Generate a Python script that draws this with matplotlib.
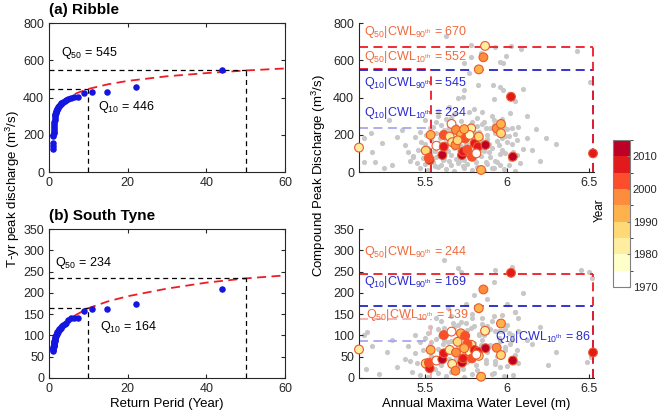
import matplotlib
matplotlib.use('Agg')
import matplotlib.pyplot as plt
from matplotlib.colors import ListedColormap, BoundaryNorm
from matplotlib.colorbar import ColorbarBase

plt.rcParams['font.family'] = ['Liberation Sans', 'DejaVu Sans']
plt.rcParams['mathtext.fontset'] = 'custom'
plt.rcParams['mathtext.rm'] = 'Liberation Sans'
plt.rcParams['mathtext.it'] = 'Liberation Sans:italic'
plt.rcParams['font.size'] = 9
plt.rcParams['axes.edgecolor'] = '#262626'
plt.rcParams['xtick.color'] = '#262626'
plt.rcParams['ytick.color'] = '#262626'

# ---------------- data ----------------
# return periods of the ranked annual maxima
ret_period = [44.0, 22.0, 14.67, 11.0, 8.8, 7.33, 6.29, 5.5, 4.89, 4.4, 4.0, 3.67, 3.38,
              3.14, 2.93, 2.75, 2.59, 2.44, 2.32, 2.2, 2.1, 2.0, 1.91, 1.83, 1.76, 1.69,
              1.63, 1.57, 1.52, 1.47, 1.42, 1.38, 1.33, 1.29, 1.26, 1.22, 1.19, 1.16,
              1.13, 1.1, 1.07, 1.05, 1.02]
ribble_q = [545, 455, 430, 428, 422, 405, 402, 398, 392, 388, 383, 378, 372, 368, 364,
            360, 356, 352, 348, 344, 340, 336, 332, 328, 323, 318, 313, 306, 298, 290,
            280, 270, 258, 246, 235, 224, 215, 207, 200, 193, 155, 140, 125]
tyne_q = [209, 173, 163, 162, 157, 142, 141, 140, 136, 130, 127, 124, 122, 120, 118,
          116, 114, 112, 110, 109, 108, 106, 104, 102, 100, 98, 96, 94, 92, 90, 88, 86,
          84, 82, 80, 78, 76, 74, 72, 70, 68, 66, 64]

# fitted distribution curves
fit_T = [1.5, 2, 3, 5, 7, 10, 15, 20, 30, 40, 50, 60]
ribble_fit = [312, 335, 366, 401, 423, 446, 471, 489, 514, 531, 545, 556]
tyne_fit = [98, 108, 121, 137, 149, 164, 180, 192, 210, 224, 234, 241]

ribble_Q10, ribble_Q50 = 446, 545
tyne_Q10, tyne_Q50 = 164, 234

# conditional quantiles
cwl_10th, cwl_90th = 5.537, 6.524
ribble_cond = {'q50_90': 670, 'q50_10': 552, 'q10_90': 545, 'q10_10': 234}
tyne_cond = {'q50_90': 244, 'q50_10': 139, 'q10_90': 169, 'q10_10': 86}

# observed compound events (water level, year, discharge)
obs_wl = [5.10, 5.536, 5.506, 5.53, 5.525, 5.571, 5.607, 5.616, 5.616, 5.652, 5.663,
          5.667, 5.69, 5.72, 5.746, 5.727, 5.687, 5.733, 5.783, 5.773, 5.787, 5.803,
          5.823, 5.829, 5.87, 5.843, 5.829, 5.857, 5.867, 6.025, 6.036, 6.524, 5.938,
          5.964, 5.964, 5.814, 5.70, 5.76, 5.74]
obs_year = [1982, 1990, 1985, 2006, 2001, 1972, 2012, 2003, 2006, 1981, 1971,
            1983, 1995, 1990, 2003, 2012, 1996, 2007, 1981, 1979, 2002, 2008,
            2009, 1988, 2013, 1990, 1994, 1995, 1980, 2009, 2012, 2008, 1996,
            1992, 1989, 1973, 1986, 2001, 1993]
obs_ribble = [131, 199, 115, 64, 75, 141, 91, 199, 136, 190, 258,
              160, 226, 199, 180, 91, 145, 109, 234, 199, 82, 154,
              136, 190, 145, 11, 551, 616, 677, 404, 82, 100, 234,
              258, 208, 100, 170, 120, 230]
obs_tyne = [67, 66, 34, 23, 36, 41, 44, 101, 58, 66, 109,
            33, 60, 105, 99, 36, 17, 46, 78, 62, 46, 66,
            62, 52, 70, 3, 164, 208, 111, 247, 41, 60, 71,
            128, 54, 55, 85, 80, 70]

# simulated events (grey cloud), Ribble
sim_wl_r = [5.47, 5.52, 5.58, 5.63, 5.68, 5.74, 5.79, 5.86, 5.92, 5.98, 6.05,
            5.45, 5.50, 5.55, 5.60, 5.65, 5.70, 5.76, 5.81, 5.88, 5.94, 6.01, 6.08,
            5.43, 5.49, 5.53, 5.57, 5.62, 5.66, 5.71, 5.75, 5.80, 5.84, 5.90, 5.96, 6.02,
            5.46, 5.52, 5.56, 5.60, 5.64, 5.68, 5.72, 5.77, 5.81, 5.86, 5.91, 5.97, 6.04, 6.10,
            5.48, 5.54, 5.58, 5.63, 5.67, 5.71, 5.75, 5.79, 5.84, 5.89, 5.94, 6.00, 6.06,
            5.51, 5.57, 5.61, 5.66, 5.70, 5.74, 5.78, 5.83, 5.88, 5.93, 5.99, 6.05,
            5.55, 5.60, 5.64, 5.69, 5.73, 5.78, 5.82, 5.87, 5.92, 5.98, 6.03,
            5.58, 5.63, 5.68, 5.72, 5.77, 5.82, 5.86, 5.91, 5.97, 6.02, 5.80,
            5.13, 5.20, 5.13, 5.17, 5.36, 5.24, 5.28, 5.38, 5.43, 5.47, 5.50, 5.18, 5.30,
            5.33, 5.40, 5.25,
            5.63, 5.78, 5.74, 5.78, 5.77, 5.74, 5.70, 5.65, 5.84, 5.93, 5.995, 6.025,
            6.086, 5.955, 5.975, 6.425, 6.504, 5.955, 5.975, 6.096, 5.823, 5.732, 5.914,
            6.05, 5.92, 6.12, 6.18, 6.24, 6.15, 6.20, 6.30, 5.58, 5.66, 5.71, 5.85,
            5.56, 5.61, 5.66, 5.71, 5.74, 5.77, 5.82, 5.86, 5.89, 5.93, 5.97, 6.00,
            5.54, 5.59, 5.62, 5.67, 5.71, 5.76, 5.80, 5.85, 5.90, 5.95, 5.99, 6.03,
            5.64, 5.69, 5.73, 5.78, 5.83, 5.87, 5.91, 5.96, 6.01, 6.06, 5.50, 5.53,
            5.57, 5.62, 5.66, 5.70, 5.75, 5.79, 5.84, 5.88, 5.92, 5.97, 6.07, 6.12,
            5.44, 5.41]
sim_q_r = [20, 10, 25, 15, 5, 20, 12, 8, 22, 15, 5,
           50, 45, 55, 40, 60, 48, 42, 55, 45, 52, 40, 50,
           85, 75, 95, 80, 70, 92, 78, 95, 72, 88, 80, 95, 70,
           120, 130, 115, 138, 112, 128, 140, 118, 132, 115, 128, 120, 110, 125,
           160, 170, 155, 178, 150, 165, 172, 158, 175, 152, 168, 160, 172,
           200, 210, 192, 215, 198, 208, 195, 215, 200, 210, 195, 205,
           240, 255, 232, 248, 238, 258, 245, 235, 250, 242, 235,
           300, 285, 310, 275, 320, 290, 270, 300, 285, 315, 340,
           55, 55, 181, 208, 225, 157, 279, 145, 82, 216, 279, 105, 40,
           190, 110, 20,
           730, 682, 583, 619, 530, 440, 396, 347, 637, 673, 623, 677,
           659, 592, 583, 651, 485, 458, 440, 444, 467, 404, 467,
           380, 390, 300, 230, 180, 120, 60, 150, 330, 290, 60, 320,
           30, 62, 35, 90, 65, 100, 25, 140, 105, 60, 180, 230,
           110, 185, 225, 255, 120, 190, 215, 260, 235, 145, 100, 150,
           155, 70, 30, 85, 165, 55, 20, 40, 195, 90, 150, 235,
           270, 140, 180, 225, 150, 270, 120, 175, 280, 265, 240, 180,
           190, 60]

# simulated events (grey cloud), South Tyne
sim_wl_t = [5.47, 5.52, 5.58, 5.63, 5.69, 5.74, 5.79, 5.85, 5.92, 5.98, 6.04,
            5.45, 5.50, 5.56, 5.60, 5.65, 5.70, 5.76, 5.81, 5.87, 5.93, 6.00, 6.07,
            5.44, 5.49, 5.54, 5.58, 5.62, 5.67, 5.72, 5.77, 5.82, 5.88, 5.94, 5.99, 6.05,
            5.47, 5.53, 5.57, 5.61, 5.66, 5.70, 5.75, 5.80, 5.85, 5.90, 5.96, 6.02,
            5.52, 5.58, 5.63, 5.68, 5.73, 5.78, 5.83, 5.88, 5.93, 5.99, 6.03,
            5.60, 5.66, 5.72, 5.79, 5.85, 5.91, 5.97, 6.07, 6.05,
            5.13, 5.14, 5.18, 5.22, 5.27, 5.33, 5.38, 5.42, 5.30, 5.40, 5.15,
            5.62, 5.70, 5.72, 5.93, 6.03, 6.45, 6.50, 6.52, 5.92, 6.10, 6.00, 6.05,
            5.80, 5.75, 5.88, 6.20, 6.15, 6.30, 6.25, 6.49, 6.51, 5.64, 5.83, 5.95,
            5.56, 5.61, 5.66, 5.71, 5.74, 5.77, 5.82, 5.86, 5.89, 5.93, 5.97, 6.00,
            5.54, 5.59, 5.62, 5.67, 5.71, 5.76, 5.80, 5.85, 5.90, 5.95, 5.99, 6.03,
            5.64, 5.69, 5.73, 5.78, 5.83, 5.87, 5.91, 5.96, 6.01, 6.06, 5.50, 5.53,
            5.57, 5.62, 5.66, 5.70, 5.75, 5.79, 5.84, 5.88, 5.92, 5.97, 6.07, 6.12,
            5.44, 5.41]
sim_q_t = [8, 3, 12, 5, 15, 2, 10, 5, 12, 4, 8,
           35, 28, 40, 30, 44, 26, 38, 30, 42, 33, 28, 36,
           58, 65, 52, 68, 55, 63, 50, 68, 56, 62, 52, 66, 55,
           85, 78, 92, 80, 88, 76, 93, 82, 90, 78, 86, 80,
           105, 115, 102, 120, 108, 118, 104, 122, 110, 115, 100,
           135, 145, 132, 150, 140, 135, 148, 140, 156,
           100, 20, 75, 10, 60, 25, 45, 15, 90, 75, 108,
           277, 258, 250, 254, 261, 254, 250, 234, 226, 199, 173, 156,
           195, 175, 185, 120, 80, 60, 30, 38, 50, 165, 160, 110,
           20, 45, 15, 70, 55, 80, 18, 100, 75, 40, 110, 125,
           85, 98, 118, 130, 95, 112, 122, 128, 115, 95, 72, 90,
           85, 48, 20, 60, 100, 35, 10, 25, 105, 65, 95, 120,
           140, 90, 105, 125, 130, 140, 78, 108, 145, 130, 110, 90,
           100, 40]

year_edges = [1970, 1975, 1980, 1985, 1990, 1995, 2000, 2005, 2010, 2015]
year_colors = ['#ffffff', '#ffffcc', '#ffeda0', '#fed976', '#feb24c',
               '#fd8d3c', '#fc4e2a', '#e31a1c', '#bd0026']

cmap = ListedColormap(year_colors)
norm = BoundaryNorm(year_edges, cmap.N)

RED = '#ee1c24'
BLUE = '#2424c8'
LBLUE = '#a8a8f0'
LRED = '#f4b0b0'
ORANGE_TXT = '#ef6a3c'
BLUE_TXT = '#2a2ad2'

W, H = 658, 412
fig = plt.figure(figsize=(W / 100, H / 100), dpi=100)


def px_axes(l, t, r, b):
    return fig.add_axes([l / W, 1 - b / H, (r - l) / W, (b - t) / H])


def return_panel(ax, q, fit, q10, q50, ymax, ystep, q50_pos, q10_pos, title):
    ax.scatter(ret_period, q, s=22, color='#1515e0', zorder=3, linewidths=0)
    ax.plot(fit_T, fit, '--', color=RED, lw=1.3, dashes=(5, 3), zorder=2)
    for T, qv in [(10, q10), (50, q50)]:
        ax.plot([0, T], [qv, qv], '--', color='k', lw=0.9, dashes=(4, 3))
        ax.plot([T, T], [0, qv], '--', color='k', lw=0.9, dashes=(4, 3))
    ax.text(q50_pos[0], q50_pos[1], r'Q$_{50}$ = %d' % q50, va='center', fontsize=9)
    ax.text(q10_pos[0], q10_pos[1], r'Q$_{10}$ = %d' % q10, va='center', fontsize=9)
    ax.set_xlim(0, 60)
    ax.set_ylim(0, ymax)
    ax.set_xticks([0, 20, 40, 60])
    ax.set_yticks(range(0, ymax + 1, ystep))
    ax.tick_params(direction='in', length=3, top=True, right=True, labelsize=9)
    ax.text(0.0, 1.04, title, transform=ax.transAxes, fontsize=11,
            fontweight='bold', va='bottom')


def compound_panel(ax, sim_wl, sim_q, obs_q, cond, ymax, ystep, labels):
    ax.scatter(sim_wl, sim_q, s=14, color='#c8c8c8', linewidths=0, zorder=1)
    # 10th percentile water level
    ax.plot([5.1, cwl_10th], [cond['q10_10']] * 2, color=LBLUE, lw=1.3, dashes=(5, 3), zorder=2)
    ax.plot([cwl_10th, cwl_10th], [0, cond['q10_10']], color=LBLUE, lw=1.3, dashes=(5, 3), zorder=2)
    col_50_10 = LRED if labels['pale_q50_10'] else RED
    ax.plot([5.1, cwl_10th], [cond['q50_10']] * 2, color=col_50_10, lw=1.3, dashes=(5, 3), zorder=2)
    ax.plot([cwl_10th, cwl_10th], [0, cond['q50_10']], color=col_50_10, lw=1.3, dashes=(5, 3), zorder=2)
    # 90th percentile water level
    ax.plot([5.1, cwl_90th], [cond['q10_90']] * 2, color=BLUE, lw=1.3, dashes=(5, 3), zorder=2)
    ax.plot([cwl_90th, cwl_90th], [0, cond['q10_90']], color=BLUE, lw=1.3, dashes=(5, 3), zorder=2)
    ax.plot([5.1, cwl_90th], [cond['q50_90']] * 2, color=RED, lw=1.3, dashes=(5, 3), zorder=2)
    ax.plot([cwl_90th, cwl_90th], [0, cond['q50_90']], color=RED, lw=1.3, dashes=(5, 3), zorder=2)

    ax.scatter(obs_wl, obs_q, s=40, c=obs_year, cmap=cmap, norm=norm,
               edgecolors='#ec5a2c', linewidths=0.8, zorder=4, clip_on=False)

    for key, color in [('q50_90', ORANGE_TXT), ('q50_10', ORANGE_TXT),
                       ('q10_90', BLUE_TXT), ('q10_10', BLUE_TXT)]:
        x, y = labels[key]
        qn = '50' if key.startswith('q50') else '10'
        pc = '90' if key.endswith('90') else '10'
        ax.text(x, y, r'Q$_{%s}$|CWL$_{%s^{\mathrm{th}}}$ = %d' % (qn, pc, cond[key]),
                color=color, va='center', fontsize=9, zorder=5)

    ax.set_xlim(5.1, 6.53)
    ax.set_ylim(0, ymax)
    ax.set_xticks([5.5, 6, 6.5])
    ax.set_xticklabels(['5.5', '6', '6.5'])
    ax.set_yticks(range(0, ymax + 1, ystep))
    ax.spines['top'].set_visible(False)
    ax.spines['right'].set_visible(False)
    ax.tick_params(direction='in', length=3, labelsize=9)


ax1 = px_axes(49, 23, 285, 172)
return_panel(ax1, ribble_q, ribble_fit, ribble_Q10, ribble_Q50, 800, 200,
             (3.0, 640), (12.4, 349), '(a) Ribble')
ax2 = px_axes(49, 229, 285, 378)
return_panel(ax2, tyne_q, tyne_fit, tyne_Q10, tyne_Q50, 350, 50,
             (1.5, 270), (13.0, 120), '(b) South Tyne')
ax2.set_xlabel('Return Perid (Year)', fontsize=9.5, labelpad=2)

ax3 = px_axes(359, 23, 594, 172)
compound_panel(ax3, sim_wl_r, sim_q_r, obs_ribble, ribble_cond, 800, 200,
               {'q50_90': (5.13, 750), 'q50_10': (5.13, 618),
                'q10_90': (5.13, 477), 'q10_10': (5.13, 316), 'pale_q50_10': False})
ax4 = px_axes(359, 229, 594, 378)
compound_panel(ax4, sim_wl_t, sim_q_t, obs_tyne, tyne_cond, 350, 50,
               {'q50_90': (5.13, 297), 'q50_10': (5.14, 148),
                'q10_90': (5.13, 226), 'q10_10': (5.925, 97), 'pale_q50_10': True})
ax4.set_xlabel('Annual Maxima Water Level (m)', fontsize=9.5, labelpad=2)

fig.text(13 / W, 1 - 189 / H, r'T-yr peak discharge (m$^3$/s)', rotation=90,
         ha='center', va='center', fontsize=9.5)
fig.text(319 / W, 1 - 176 / H, r'Compound Peak Discharge (m$^3$/s)', rotation=90,
         ha='center', va='center', fontsize=9.5)

cax = px_axes(613, 140, 630, 287)
cb = ColorbarBase(cax, cmap=cmap, norm=norm, boundaries=year_edges,
                  ticks=[1970, 1980, 1990, 2000, 2010])
cb.outline.set_edgecolor('#808080')
cb.outline.set_linewidth(0.8)
cax.tick_params(direction='in', length=2, labelsize=8, pad=2, color='#808080')
fig.text(600 / W, 1 - 210 / H, 'Year', rotation=90, ha='center', va='center', fontsize=8.5)

fig.savefig('out.png', dpi=100)
